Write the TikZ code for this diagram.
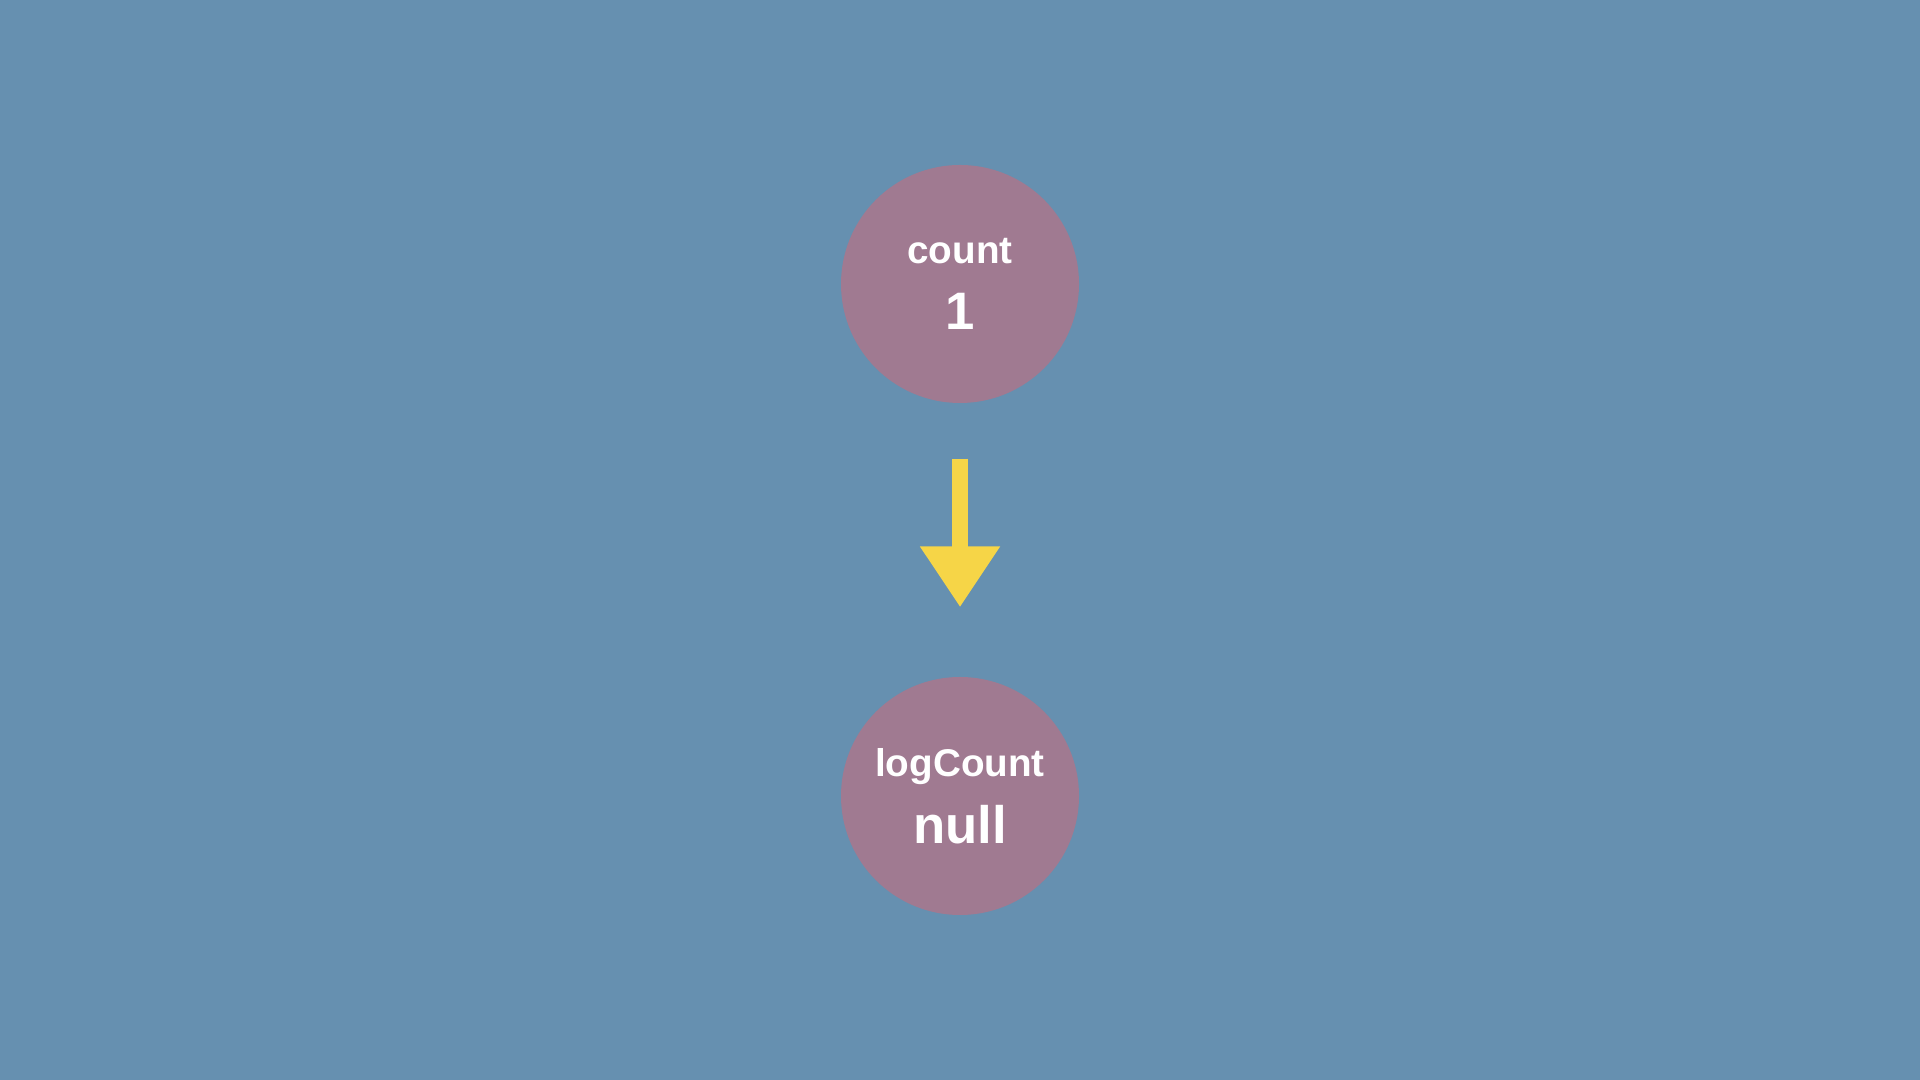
\documentclass[tikz,border=0pt]{standalone}
\usepackage{fontspec}
\setmainfont{Liberation Sans}
\usetikzlibrary{arrows.meta}
\definecolor{paperblue}{HTML}{6690B0}
\definecolor{varpink}{HTML}{A07A91}
\definecolor{chalkyellow}{HTML}{F6D547}

\begin{document}
\begin{tikzpicture}[
    var/.style={circle, fill=varpink, minimum size=2.38cm, inner sep=0pt, align=center, text=white, font=\bfseries\fontsize{11}{19}\selectfont},
    flow/.style={chalkyellow, line width=0.16cm, -{Triangle[length=0.61cm, width=0.76cm]}}
]
    \fill[paperblue] (0,0) rectangle (19.2,10.8);

    \node[var] (count) at (9.6,7.96) {count\\{\fontsize{15}{19}\selectfont 1}};
    \node[var] (logcount) at (9.6,2.84) {logCount\\{\fontsize{15}{19}\selectfont null}};

    \draw[flow, shorten <=0.55cm, shorten >=0.69cm] (count) -- (logcount);
\end{tikzpicture}
\end{document}
